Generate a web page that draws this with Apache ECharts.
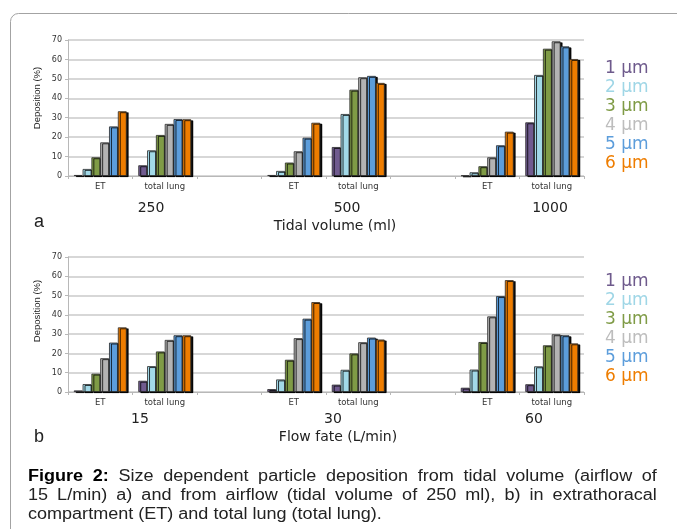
<!DOCTYPE html>
<html>
<head>
<meta charset="utf-8">
<script src="https://cdn.jsdelivr.net/npm/echarts@6/dist/echarts.min.js"></script>
<style>
  html, body { margin: 0; padding: 0; background: #fff; }
  #wrap { position: relative; width: 677px; height: 529px; overflow: hidden; }
  #chart { position: absolute; left: 0; top: 0; width: 677px; height: 529px; }
  #caption { position: absolute; left: 28px; top: 466px; width: 558px; transform: scaleX(1.127); transform-origin: 0 0; font-family: 'Liberation Sans', Arial, sans-serif; font-size: 16px; line-height: 19px; color: #222; }
  #caption div { text-align: justify; text-align-last: justify; white-space: nowrap; }
  #caption div.last { text-align-last: left; }
</style>
</head>
<body>
<div id="wrap">
  <div id="chart"></div>
  <div id="caption">
    <div><b style="color:#000">Figure 2:</b> Size dependent particle deposition from tidal volume (airflow of</div>
    <div>15 L/min) a) and from airflow (tidal volume of 250 ml), b) in extrathoracal</div>
    <div class="last">compartment (ET) and total lung (total lung).</div>
  </div>
</div>
<script>
  // x categories, empty slot between groups
  const categories = ['ET', 'total lung', '', 'ET', 'total lung', '', 'ET', 'total lung']
  const sizes = ['1 µm', '2 µm', '3 µm', '4 µm', '5 µm', '6 µm']
  const barColors = ['#705b8f', '#a2d9e8', '#7f9b46', '#b3b3b3', '#5c9ddb', '#ee7d00']
  const legendColors = ['#6e5a8c', '#9fd6e6', '#7f9b46', '#bdbdbd', '#5c9ddb', '#ee7d00']

  // a) tidal volume 250 / 500 / 1000 ml
  const tidalGroups = ['250', '500', '1000']
  const tidal1 = [0.5, 5.5, '-', 0.5, 14.9, '-', 0.3, 27.6]
  const tidal2 = [3.6, 13.2, '-', 2.6, 31.9, '-', 1.9, 52]
  const tidal3 = [9.6, 21.1, '-', 6.9, 44.4, '-', 5, 65.5]
  const tidal4 = [17.3, 26.8, '-', 12.7, 50.8, '-', 9.6, 69.3]
  const tidal5 = [25.5, 29.3, '-', 19.7, 51.5, '-', 15.8, 66.7]
  const tidal6 = [33.3, 29.2, '-', 27.4, 47.9, '-', 22.8, 60.2]

  // b) flow rate 15 / 30 / 60 L/min
  const flowGroups = ['15', '30', '60']
  const flow1 = [0.8, 5.8, '-', 1.5, 3.8, '-', 2.2, 4]
  const flow2 = [4.1, 13.4, '-', 6.5, 11.5, '-', 11.6, 13.3]
  const flow3 = [9.5, 21, '-', 16.7, 20, '-', 25.9, 24.2]
  const flow4 = [17.5, 27, '-', 27.9, 25.8, '-', 39.2, 29.9]
  const flow5 = [25.6, 29.4, '-', 38, 28.2, '-', 49.7, 29.4]
  const flow6 = [33.5, 29.4, '-', 46.6, 27.2, '-', 58, 25.2]

  const yTicks = { min: 0, max: 70, interval: 10 }

  const tidalData = [tidal1, tidal2, tidal3, tidal4, tidal5, tidal6]
  const flowData = [flow1, flow2, flow3, flow4, flow5, flow6]

  const chart = echarts.init(document.getElementById('chart'), null, { renderer: 'canvas' })

  function xAxisOf (gridIndex) {
    return {
      type: 'category',
      gridIndex: gridIndex,
      data: categories,
      axisLine: { lineStyle: { color: '#b8b8b8', width: 1 } },
      axisTick: { show: true, length: 3, lineStyle: { color: '#b8b8b8' } },
      axisLabel: { interval: 0, margin: 6, fontSize: 8.5, color: '#333', fontFamily: 'DejaVu Sans' }
    }
  }

  function yAxisOf (gridIndex) {
    return {
      type: 'value',
      gridIndex: gridIndex,
      min: yTicks.min,
      max: yTicks.max,
      interval: yTicks.interval,
      axisLine: { show: true, lineStyle: { color: '#b8b8b8' } },
      axisTick: { show: true, length: 3, lineStyle: { color: '#b8b8b8' } },
      axisLabel: { margin: 6, fontSize: 8, color: '#333', fontFamily: 'DejaVu Sans' },
      splitLine: { lineStyle: { color: '#cacaca', width: 1.5 } }
    }
  }

  function seriesOf (rows, axisIndex) {
    return rows.map((row, i) => ({
      name: sizes[i],
      type: 'bar',
      xAxisIndex: axisIndex,
      yAxisIndex: axisIndex,
      barGap: '0%',
      barCategoryGap: '18%',
      itemStyle: {
        color: barColors[i],
        borderColor: '#2a2a2a',
        borderWidth: 0.8,
        shadowColor: 'rgba(0,0,0,0.95)',
        shadowBlur: 0.5,
        shadowOffsetX: 2,
        shadowOffsetY: 1
      },
      data: row
    }))
  }

  function legendOf (top) {
    return {
      orient: 'vertical',
      left: 600,
      top: top,
      padding: 0,
      icon: 'none',
      itemWidth: 0,
      itemHeight: 19,
      itemGap: 0,
      selectedMode: false,
      textStyle: { fontSize: 17, lineHeight: 19, fontFamily: 'DejaVu Sans' },
      data: sizes.map((s, i) => ({ name: s, textStyle: { color: legendColors[i] } }))
    }
  }

  const textFont = 'DejaVu Sans'
  function label (text, x, y, size, family) {
    return {
      type: 'text',
      x: x,
      y: y,
      style: {
        text: text,
        fontSize: size,
        fontFamily: family || textFont,
        fill: '#222',
        textAlign: 'center',
        textVerticalAlign: 'middle'
      }
    }
  }

  const graphics = [
    {
      type: 'rect',
      z: -1,
      shape: { x: 10.5, y: 13.5, width: 720, height: 620, r: 8 },
      style: { fill: 'none', stroke: '#a3a3a3', lineWidth: 1 }
    },
    {
      type: 'text', x: 37, y: 98, rotation: Math.PI / 2,
      style: { text: 'Deposition (%)', fontSize: 9.5, fontFamily: 'Liberation Sans', fill: '#222', textAlign: 'center', textVerticalAlign: 'middle' }
    },
    {
      type: 'text', x: 37, y: 311, rotation: Math.PI / 2,
      style: { text: 'Deposition (%)', fontSize: 9.5, fontFamily: 'Liberation Sans', fill: '#222', textAlign: 'center', textVerticalAlign: 'middle' }
    },
    label(tidalGroups[0], 151, 208, 14),
    label(tidalGroups[1], 347, 208, 14),
    label(tidalGroups[2], 550, 208, 14),
    label('Tidal volume (ml)', 335, 226, 14),
    label('a', 39, 222, 18, 'Liberation Sans'),
    label(flowGroups[0], 140, 419, 14),
    label(flowGroups[1], 333, 419, 14),
    label(flowGroups[2], 534, 419, 14),
    label('Flow fate (L/min)', 338, 437, 14),
    label('b', 39, 437, 18, 'Liberation Sans')
  ]

  const option = {
    animation: false,
    backgroundColor: '#fff',
    textStyle: { fontFamily: textFont },
    grid: [
      { left: 68, top: 40, width: 516, height: 136, containLabel: false },
      { left: 68, top: 257, width: 516, height: 135, containLabel: false }
    ],
    legend: [legendOf(59.5), legendOf(272.5)],
    xAxis: [xAxisOf(0), xAxisOf(1)],
    yAxis: [yAxisOf(0), yAxisOf(1)],
    series: seriesOf(tidalData, 0).concat(seriesOf(flowData, 1)),
    graphic: graphics
  }

  chart.setOption(option)
</script>
</body>
</html>
